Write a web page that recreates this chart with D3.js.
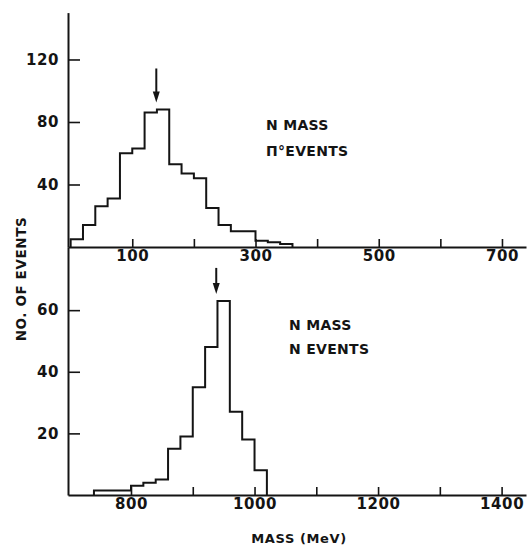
<!DOCTYPE html>
<html>
<head>
<meta charset="utf-8">
<script src="https://cdn.jsdelivr.net/npm/d3@7/dist/d3.min.js"></script>
<style>
  html, body { margin: 0; padding: 0; background: #fff; }
  svg text { font-family: "DejaVu Sans", "Liberation Sans", sans-serif; font-weight: bold; fill: #141414; }
</style>
</head>
<body>
<svg id="chart" width="528" height="548"></svg>
<script>
// Upper panel: π° events, bin edges (MeV) and counts per bin
const piEdges  = [0, 20, 40, 60, 80, 100, 120, 140, 160, 180, 200, 220, 240, 260, 280, 300, 320, 340, 360];
const piCounts = [5, 14, 26, 31, 60, 63, 86, 88, 53, 47, 44, 25, 14, 10, 10, 4, 3, 2];
const piArrowMass = 139;
const piYTicks = [40, 80, 120];
const piXTicks = [100, 200, 300, 400, 500, 600, 700];
const piXLabels = [100, 300, 500, 700];

// Lower panel: N events, bin edges (MeV) and counts per bin
const nEdges  = [740, 800, 820, 840, 860, 880, 900, 920, 940, 960, 980, 1000, 1020];
const nCounts = [1.5, 3, 4, 5, 15, 19, 35, 48, 63, 27, 18, 8];
const nArrowMass = 938;
const nYTicks = [20, 40, 60];
const nXTicks = [800, 900, 1000, 1100, 1200, 1300, 1400];
const nXLabels = [800, 1000, 1200, 1400];

const svg = d3.select("#chart");
const left = 68, right = 526;

// scales
const xTop = d3.scaleLinear().domain([-4.3, 739]).range([left, right]);
const yTop = d3.scaleLinear().domain([0, 150]).range([247, 12.6]);
const xBot = d3.scaleLinear().domain([698, 1439.5]).range([left, right]);
const yBot = d3.scaleLinear().domain([0, 80.5]).range([495, 247]);

function styleAxis(g) {
  g.select(".domain").attr("stroke", "#141414").attr("stroke-width", 2);
  g.selectAll(".tick line").attr("stroke", "#141414").attr("stroke-width", 1.6);
  g.selectAll(".tick text").attr("font-size", 15).attr("letter-spacing", "0.6px")
    .style("font-family", '"DejaVu Sans", sans-serif').style("font-weight", "bold").attr("fill", "#141414");
}

function panel(x, y, edges, counts, xTicks, xLabels, yTicks, arrowMass, arrowLen) {
  // x axis with inward ticks
  const gx = svg.append("g").attr("transform", `translate(0,${y(0)})`)
    .call(d3.axisBottom(x).tickValues(xTicks).tickSizeInner(-8).tickSizeOuter(0).tickPadding(3)
      .tickFormat(d => xLabels.includes(d) ? d : ""));
  styleAxis(gx);

  // y axis with inward ticks
  const gy = svg.append("g").attr("transform", `translate(${left},0)`)
    .call(d3.axisLeft(y).tickValues(yTicks).tickSizeInner(-12).tickSizeOuter(0).tickPadding(9));
  styleAxis(gy);

  // histogram outline
  const pts = [[edges[0], 0]];
  counts.forEach((c, i) => { pts.push([edges[i], c]); pts.push([edges[i + 1], c]); });
  pts.push([edges[edges.length - 1], 0]);
  svg.append("path")
    .attr("d", d3.line().x(d => x(d[0])).y(d => y(d[1]))(pts))
    .attr("fill", "none").attr("stroke", "#141414").attr("stroke-width", 2).attr("stroke-linejoin", "miter");

  // arrow marking the expected mass
  const peak = d3.max(counts);
  const ax = x(arrowMass), tip = y(peak) - 7;
  svg.append("line").attr("x1", ax).attr("x2", ax).attr("y1", tip - arrowLen).attr("y2", tip - 9)
    .attr("stroke", "#141414").attr("stroke-width", 2);
  svg.append("path").attr("d", `M${ax - 3.5},${tip - 11}L${ax + 3.5},${tip - 11}L${ax},${tip}Z`)
    .attr("fill", "#141414");
}

panel(xTop, yTop, piEdges, piCounts, piXTicks, piXLabels, piYTicks, piArrowMass, 34);
panel(xBot, yBot, nEdges, nCounts, nXTicks, nXLabels, nYTicks, nArrowMass, 26);

// panel captions
const cap = (tx, ty, s) => svg.append("text").attr("x", tx).attr("y", ty)
  .attr("font-size", 14).attr("letter-spacing", "0.3px").text(s);
cap(266, 130, "N MASS");
cap(266, 155.5, "Π°EVENTS");
cap(289, 330, "N MASS");
cap(289, 353.5, "N EVENTS");

// axis titles
svg.append("text").attr("x", 299).attr("y", 543).attr("text-anchor", "middle")
  .attr("font-size", 13).attr("letter-spacing", "0.6px").text("MASS (MeV)");
svg.append("text").attr("transform", "translate(26,279) rotate(-90)").attr("text-anchor", "middle")
  .attr("font-size", 13.5).attr("letter-spacing", "0.6px").text("NO. OF EVENTS");
</script>
</body>
</html>
